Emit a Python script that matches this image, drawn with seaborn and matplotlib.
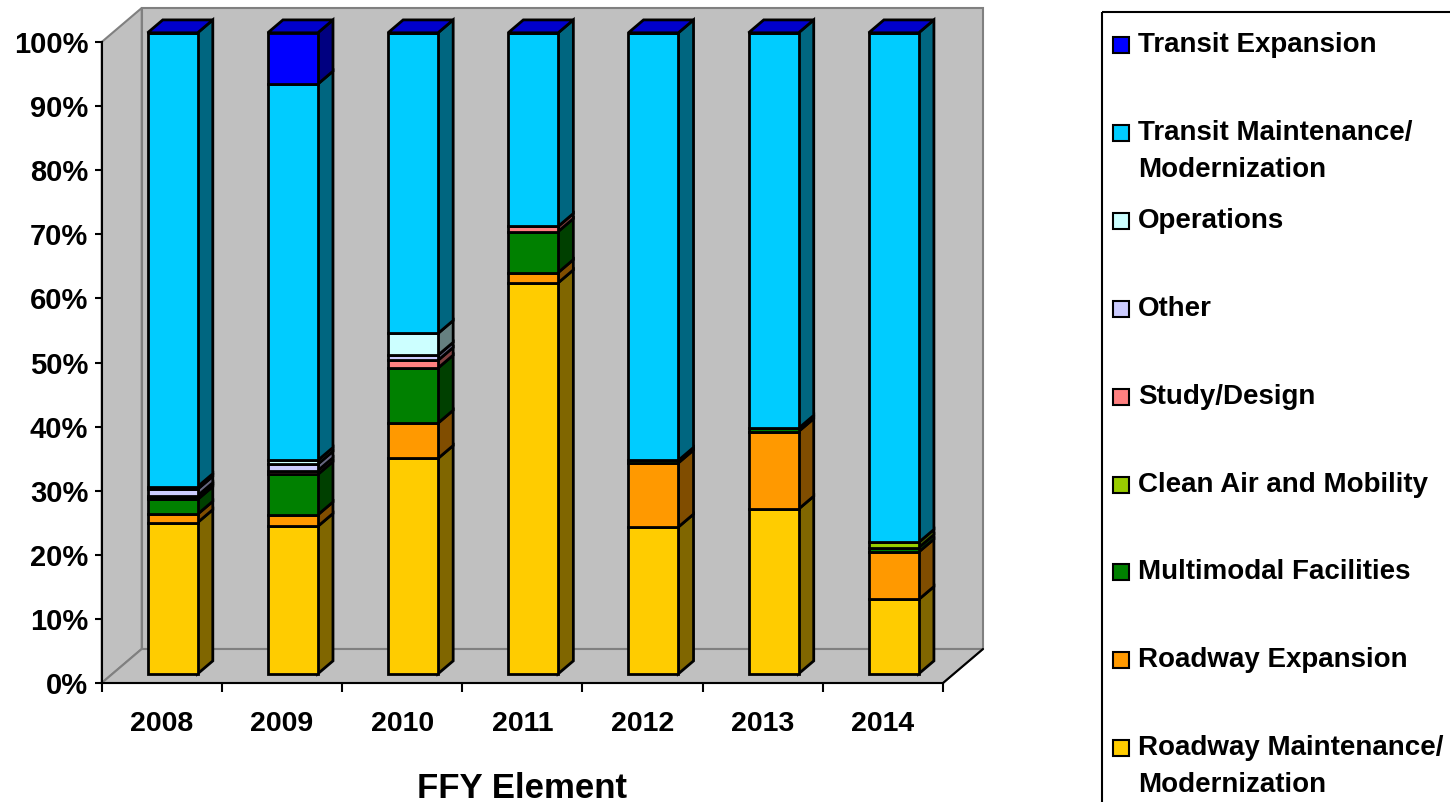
"""FFY element shares, 3D-style 100% stacked columns"""

import numpy as np
import pandas as pd
import matplotlib
matplotlib.use("Agg")
import matplotlib.pyplot as plt
import matplotlib.colors as mcolors
from matplotlib.patches import Rectangle, Polygon
import seaborn as sns

years = ["2008", "2009", "2010", "2011", "2012", "2013", "2014"]

# share of each element in %, listed from the bottom of the stack to the top
roadway_maint = [23.6, 23.0, 33.6, 61.0, 22.9, 25.7, 11.6]
roadway_exp = [1.3, 1.8, 5.5, 1.6, 10.0, 12.1, 7.4]
multimodal = [2.3, 6.3, 8.6, 6.4, 0.4, 0.5, 0.7]
clean_air = [0.3, 0.0, 0.0, 0.0, 0.0, 0.0, 0.8]
study_design = [0.3, 0.6, 1.2, 0.8, 0.0, 0.0, 0.0]
other = [1.0, 1.0, 0.8, 0.0, 0.0, 0.0, 0.0]
operations = [0.4, 0.6, 3.4, 0.0, 0.0, 0.0, 0.0]
transit_maint = [70.8, 58.7, 46.9, 30.2, 66.7, 61.7, 79.5]
transit_exp = [0.0, 8.0, 0.0, 0.0, 0.0, 0.0, 0.0]

series_names = ["Roadway Maintenance/\nModernization", "Roadway Expansion",
                "Multimodal Facilities", "Clean Air and Mobility", "Study/Design",
                "Other", "Operations", "Transit Maintenance/\nModernization",
                "Transit Expansion"]
series_colors = ["#FFCC00", "#FF9900", "#008000", "#99CC00", "#FF8080",
                 "#CCCCFF", "#CCFFFF", "#00CCFF", "#0000FF"]

df = pd.DataFrame(dict(zip(series_names, [roadway_maint, roadway_exp, multimodal, clean_air,
                                          study_design, other, operations, transit_maint,
                                          transit_exp])), index=years)

sns.set_style("white")
plt.rcParams["font.family"] = ["Liberation Sans", "DejaVu Sans"]
plt.rcParams["font.weight"] = "bold"
for key in ["text.color", "axes.labelcolor", "xtick.color", "ytick.color"]:
    plt.rcParams[key] = "black"

W, H = 1450, 802
fig = plt.figure(figsize=(W / 100, H / 100), dpi=100)
ax = fig.add_axes([101.7 / W, 1 - 683 / H, (943 - 101.7) / W, 641 / H])

# 3D look: depth of the floor and of the columns, in data units
px_x = (943 - 101.7) / len(years)
px_y = 641 / 100
DX, DY = 40 / px_x, 34 / px_y
fx, fy = 0.27 * DX, 0.27 * DY          # front face of the columns
bx, by = 0.38 * DX, 0.38 * DY          # column depth
bar_w = 50 / px_x
LW = 2.0

wall = "#C0C0C0"
wall_edge = "#808080"
n = len(years)
ax.add_patch(Rectangle((-0.5 + DX, DY), n, 100, fc=wall, ec=wall_edge, lw=1.5,
                       clip_on=False, zorder=0))
ax.add_patch(Polygon([(-0.5, 0), (-0.5 + DX, DY), (-0.5 + DX, 100 + DY), (-0.5, 100)],
                     closed=True, fc=wall, ec=wall_edge, lw=1.5, clip_on=False, zorder=0))
ax.add_patch(Polygon([(-0.5, 0), (n - 0.5, 0), (n - 0.5 + DX, DY), (-0.5 + DX, DY)],
                     closed=True, fc=wall, ec=wall_edge, lw=1.5, clip_on=False, zorder=0))
ax.plot([n - 0.5, n - 0.5 + DX], [0, DY], color="black", lw=1.5, clip_on=False, zorder=1)

xpos = np.arange(n)
bottom = np.zeros(n)
for name, col in zip(series_names, series_colors):
    vals = df[name].to_numpy()
    sns.barplot(x=xpos + fx, y=vals, native_scale=True, orient="x", width=bar_w,
                color=col, saturation=1, bottom=fy + bottom, edgecolor="black",
                linewidth=LW, errorbar=None, clip_on=False, zorder=3, ax=ax)
    side = tuple(c * 0.5 for c in mcolors.to_rgb(col))
    for i in range(n):
        if vals[i] <= 0:
            continue
        xr = xpos[i] + fx + bar_w / 2
        b = fy + bottom[i]
        t = b + vals[i]
        ax.add_patch(Polygon([(xr, b), (xr + bx, b + by), (xr + bx, t + by), (xr, t)],
                             closed=True, fc=side, ec="black", lw=LW, clip_on=False, zorder=2))
    bottom += vals

# top faces take the colour of the last series
top_col = tuple(c * 0.8 for c in mcolors.to_rgb(series_colors[-1]))
for i in range(n):
    xl = xpos[i] + fx - bar_w / 2
    xr = xl + bar_w
    t = fy + bottom[i]
    ax.add_patch(Polygon([(xl, t), (xr, t), (xr + bx, t + by), (xl + bx, t + by)],
                         closed=True, fc=top_col, ec="black", lw=LW, clip_on=False, zorder=2))

ax.set_xlim(-0.5, n - 0.5)
ax.set_ylim(0, 100)
ax.set_xticks(xpos)
ax.set_xticklabels(years)
ax.set_xticks(np.arange(-0.5, n, 1), minor=True)
ax.set_yticks(np.arange(0, 101, 10))
ax.set_yticklabels([f"{v}%" for v in range(0, 101, 10)])
ax.tick_params(axis="x", which="major", bottom=True, length=0, pad=20, labelsize=20.5)
ax.tick_params(axis="x", which="minor", bottom=True, length=6.5, width=1.5, color="black")
ax.tick_params(axis="y", left=True, length=4.7, width=1.5, color="black", pad=5, labelsize=21)
for s in ["top", "right"]:
    ax.spines[s].set_visible(False)
for s in ["left", "bottom"]:
    ax.spines[s].set_color("black")
    ax.spines[s].set_linewidth(1.5)
    ax.spines[s].set_zorder(4)
ax.set_ylabel("")
ax.set_xlabel("FFY Element", fontsize=25, fontweight="bold", labelpad=25)

# legend drawn in pixel coordinates
lax = fig.add_axes([0, 0, 1, 1])
lax.set_xlim(0, W)
lax.set_ylim(H, 0)
lax.axis("off")
lax.add_patch(Rectangle((1102, 12), 400, 850, fill=False, ec="black", lw=1.5, clip_on=False))
for k, (name, col) in enumerate(zip(series_names[::-1], series_colors[::-1])):
    yc = 45 + 87.9 * k
    lax.add_patch(Rectangle((1113, yc - 8), 16, 16, fc=col, ec="black", lw=1.5))
    for j, line in enumerate(name.split("\n")):
        lax.text(1138, yc + 37 * j, line, fontsize=20, fontweight="bold",
                 va="center", ha="left")

plt.savefig("out.png", dpi=100)
plt.close()
